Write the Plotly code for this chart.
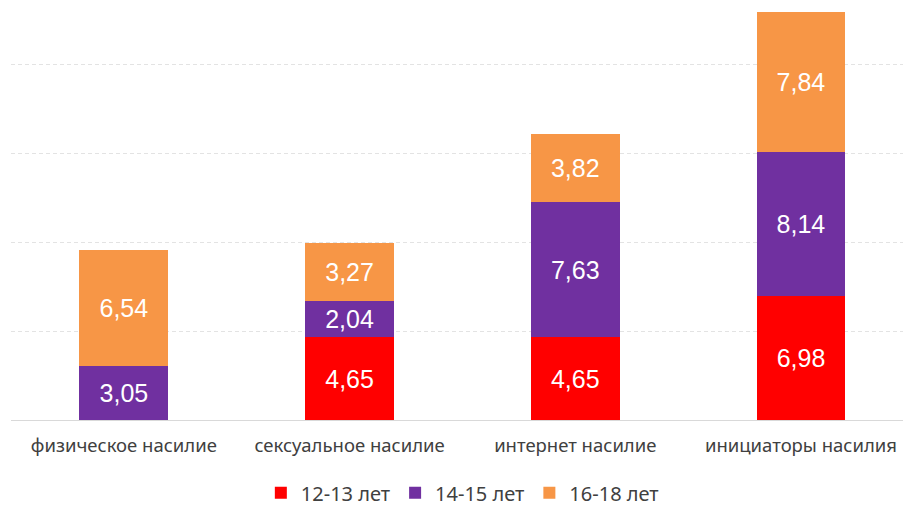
import plotly.graph_objects as go

categories = ["физическое насилие", "сексуальное насилие", "интернет насилие", "инициаторы насилия"]
series_names = ["12-13 лет", "14-15 лет", "16-18 лет"]
v_12_13 = [None, 4.65, 4.65, 6.98]
v_14_15 = [3.05, 2.04, 7.63, 8.14]
v_16_18 = [6.54, 3.27, 3.82, 7.84]
colors = ["#FF0000", "#7030A0", "#F79646"]

fig = go.Figure()
for name, vals, col in zip(series_names, [v_12_13, v_14_15, v_16_18], colors):
    fig.add_trace(go.Bar(
        x=categories, y=vals, name=name,
        marker=dict(color=col, line=dict(width=0)),
        texttemplate="%{y:.2f}", textposition="inside", insidetextanchor="middle",
        textfont=dict(color="white", size=25, family="Liberation Sans"),
        cliponaxis=False,
    ))

fig.update_layout(
    barmode="stack",
    bargap=0.606,
    separators=", ",
    width=903, height=506,
    margin=dict(l=11, r=0, t=0, b=86, autoexpand=False),
    paper_bgcolor="white", plot_bgcolor="white",
    font=dict(family="Noto Sans", color="#404040"),
    showlegend=True,
    legend=dict(orientation="h", x=0.512, xanchor="center", xref="container",
                y=0.026, yanchor="middle", yref="container",
                font=dict(size=20, color="#404040"), traceorder="normal",
                itemwidth=30),
    xaxis=dict(range=[-0.5, 3.452], showgrid=False, showline=True, linecolor="#D9D9D9",
               linewidth=1, ticks="", tickfont=dict(size=18.5, color="#404040"),
               ticklabelstandoff=9, fixedrange=True, automargin=False),
    yaxis=dict(range=[0, 23.66], showticklabels=False, dtick=5, showgrid=True,
               gridcolor="#E3E3E3", griddash="4px,3px", gridwidth=1,
               zeroline=False, showline=False, ticks="", automargin=False),
)

fig.write_html("out.html")
